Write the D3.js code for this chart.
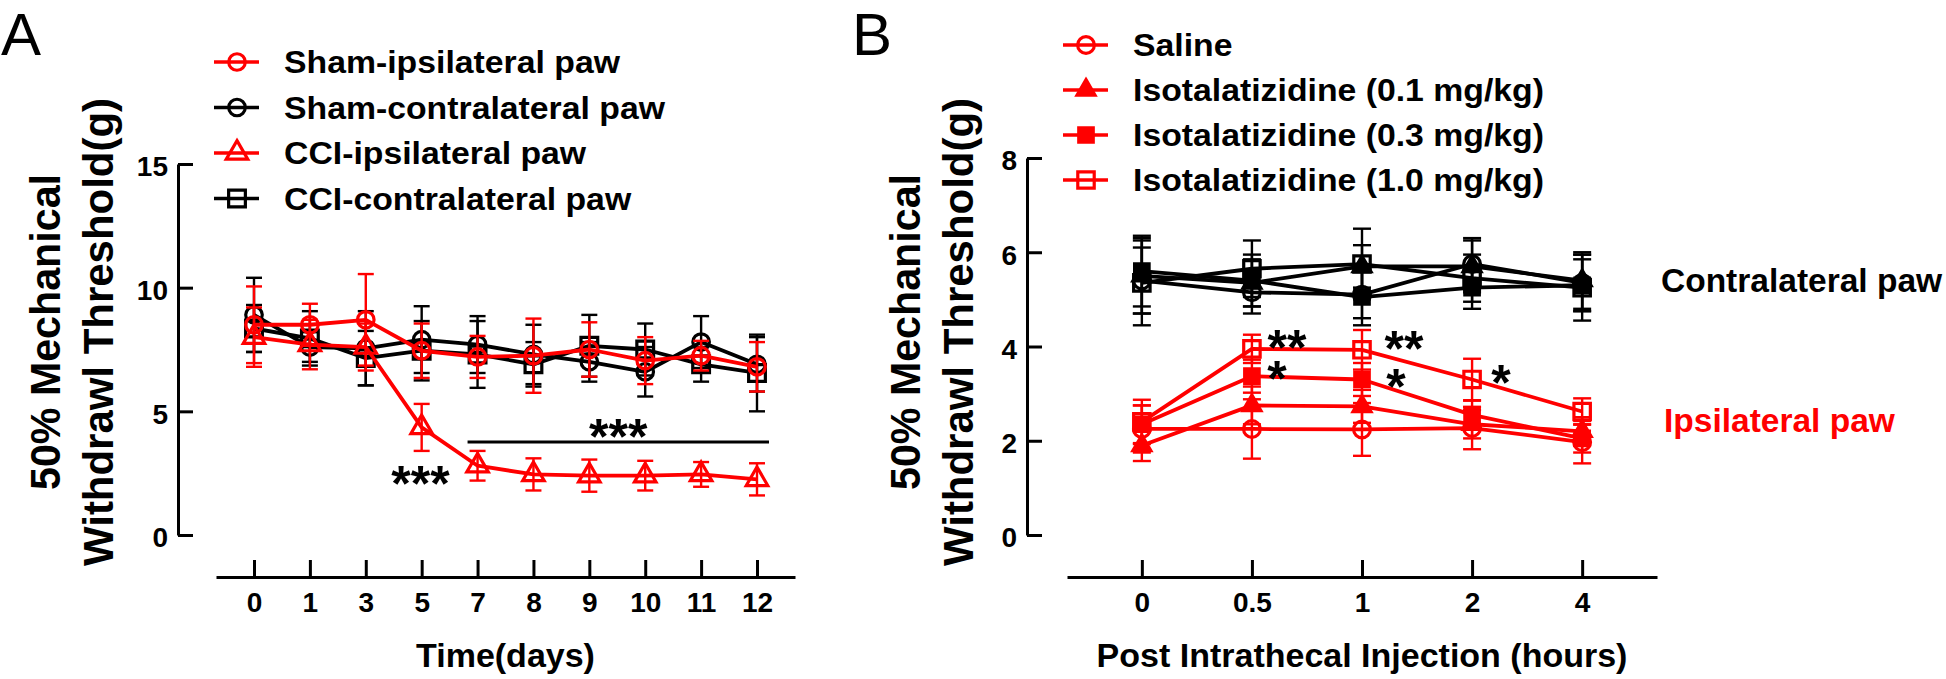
<!DOCTYPE html>
<html>
<head>
<meta charset="utf-8">
<title>50% Mechanical Withdrawl Threshold</title>
<script src="https://cdn.jsdelivr.net/npm/d3@7"></script>
<style>
  body { margin: 0; background: #fff; }
  svg { display: block; font-family: "Liberation Sans", Arial, Helvetica, sans-serif; }
  .axis path, .axis line { stroke: #000; stroke-width: 3; }
  .axis text { font-size: 28px; font-weight: bold; fill: #000; }
</style>
</head>
<body>
<div id="chart"></div>
<script>

var RED = "#ff0000";

// ---- Panel A : time course after CCI ----
var daysA = ["0", "1", "3", "5", "7", "8", "9", "10", "11", "12"];
var shamIpsi      = [8.5, 8.5, 8.7, 7.45, 7.2, 7.25, 7.5, 7.05, 7.25, 6.8];
var shamIpsiErr   = [1.55, 0.85, 1.85, 1.1, 0.85, 1.5, 1.1, 0.95, 0.6, 1.0];
var shamContra    = [8.9, 7.6, 7.55, 7.9, 7.7, 7.3, 7.0, 6.6, 7.8, 6.9];
var shamContraErr = [1.5, 0.6, 1.5, 1.35, 1.15, 1.2, 0.8, 1.0, 1.05, 1.1];
var cciIpsi       = [8.0, 7.7, 7.6, 4.35, 2.8, 2.45, 2.4, 2.4, 2.45, 2.25];
var cciIpsiErr    = [1.2, 1.0, 0.95, 0.95, 0.6, 0.65, 0.65, 0.6, 0.5, 0.65];
var cciContra     = [8.35, 7.95, 7.15, 7.45, 7.3, 6.9, 7.65, 7.5, 6.9, 6.55];
var cciContraErr  = [0.95, 1.1, 1.1, 1.2, 1.35, 0.9, 1.25, 1.05, 0.7, 1.55];
var yTicksA = [0, 5, 10, 15];

// ---- Panel B : after intrathecal injection ----
var hoursB = ["0", "0.5", "1", "2", "4"];
var salIpsi      = [2.25, 2.25, 2.24, 2.27, 1.97];
var salIpsiErr   = [0.5, 0.63, 0.56, 0.45, 0.45];
var iso01Ipsi    = [1.9, 2.75, 2.73, 2.35, 2.2];
var iso01IpsiErr = [0.33, 0.4, 0.35, 0.3, 0.3];
var iso03Ipsi    = [2.35, 3.37, 3.3, 2.55, 2.05];
var iso03IpsiErr = [0.4, 0.35, 0.35, 0.3, 0.3];
var iso10Ipsi    = [2.4, 3.95, 3.93, 3.3, 2.62];
var iso10IpsiErr = [0.47, 0.3, 0.42, 0.44, 0.28];
var salContra      = [5.4, 5.15, 5.1, 5.75, 5.35];
var salContraErr   = [0.7, 0.45, 0.5, 0.55, 0.6];
var iso01Contra    = [5.5, 5.35, 5.7, 5.7, 5.4];
var iso01ContraErr = [0.8, 0.5, 0.45, 0.55, 0.6];
var iso03Contra    = [5.6, 5.4, 5.05, 5.25, 5.3];
var iso03ContraErr = [0.75, 0.55, 0.6, 0.45, 0.55];
var iso10Contra    = [5.35, 5.65, 5.75, 5.45, 5.25];
var iso10ContraErr = [0.9, 0.6, 0.75, 0.5, 0.7];
var yTicksB = [0, 2, 4, 6, 8];

var svg = d3.select("#chart").append("svg")
  .attr("width", 1946)
  .attr("height", 679);

/*
 * LinePanel - one GraphPad style panel (mean +/- error, point x axis)
 */
LinePanel = function(_svg, _opts){
  this.svg = _svg;
  this.opts = _opts;
  this.initVis();
}

LinePanel.prototype.initVis = function(){
  var vis = this;
  var o = vis.opts;

  vis.g = vis.svg.append("g");

  vis.x = d3.scalePoint()
    .domain(o.categories)
    .range([o.left, o.right])
    .padding(0.68);

  vis.y = d3.scaleLinear()
    .domain([0, o.yMax])
    .range([o.bottom, o.top]);

  vis.yAxis = d3.axisLeft(vis.y)
    .tickValues(o.yTicks)
    .tickSizeInner(-15)
    .tickSizeOuter(0)
    .tickPadding(10);

  vis.xAxis = d3.axisBottom(vis.x)
    .tickSizeInner(-17)
    .tickSizeOuter(0)
    .tickPadding(15);

  var ya = vis.g.append("g")
    .attr("class", "axis")
    .attr("transform", "translate(" + o.yAxisX + ",0)")
    .call(vis.yAxis)
    .attr("font-size", null).attr("font-family", null);
  ya.selectAll("text").attr("dy", "0.42em");

  vis.g.append("g")
    .attr("class", "axis")
    .attr("transform", "translate(0," + o.baseline + ")")
    .call(vis.xAxis)
    .attr("font-size", null).attr("font-family", null);

  // x title
  vis.g.append("text")
    .attr("x", (o.left + o.right) / 2)
    .attr("y", o.baseline + 90)
    .attr("text-anchor", "middle")
    .style("font-size", "34px")
    .style("font-weight", "bold")
    .text(o.xTitle);

  // y title, two lines
  o.yTitle.forEach(function(t, i){
    vis.g.append("text")
      .attr("transform", "translate(" + o.yTitleX[i] + ",332) rotate(-90)")
      .attr("text-anchor", "middle")
      .attr("textLength", o.yTitleLen[i])
      .attr("lengthAdjust", "spacingAndGlyphs")
      .style("font-size", "42px")
      .style("font-weight", "bold")
      .text(t);
  });

  // panel letter
  vis.g.append("text")
    .attr("x", o.letterX)
    .attr("y", 55)
    .style("font-size", "60px")
    .text(o.letter);

  vis.wrangleData();
}

LinePanel.prototype.wrangleData = function(){
  var vis = this;
  var o = vis.opts;

  vis.displayData = o.series.map(function(s){
    return {
      style: s,
      points: s.values.map(function(v, i){
        return { cat: o.categories[i], v: v, e: s.err[i] };
      })
    };
  });

  vis.updateVis();
}

LinePanel.prototype.symbolPath = function(s){
  var types = { circle: d3.symbolCircle, triangle: d3.symbolTriangle, square: d3.symbolSquare };
  return d3.symbol().type(types[s.shape]).size(s.size)();
}

LinePanel.prototype.updateVis = function(){
  var vis = this;
  var o = vis.opts;
  var cap = o.capWidth;

  var line = d3.line()
    .x(function(d){ return vis.x(d.cat); })
    .y(function(d){ return vis.y(d.v); });

  o.drawOrder.forEach(function(idx){
    var d = vis.displayData[idx];
    var s = d.style;
    var gs = vis.g.append("g");

    // error bars
    var eb = gs.selectAll(".eb").data(d.points).enter().append("g")
      .attr("stroke", s.color)
      .attr("stroke-width", 2.4);
    eb.append("line")
      .attr("x1", function(p){ return vis.x(p.cat); })
      .attr("x2", function(p){ return vis.x(p.cat); })
      .attr("y1", function(p){ return vis.y(p.v - p.e); })
      .attr("y2", function(p){ return vis.y(p.v + p.e); });
    eb.append("line")
      .attr("x1", function(p){ return vis.x(p.cat) - cap / 2; })
      .attr("x2", function(p){ return vis.x(p.cat) + cap / 2; })
      .attr("y1", function(p){ return vis.y(p.v + p.e); })
      .attr("y2", function(p){ return vis.y(p.v + p.e); });
    eb.append("line")
      .attr("x1", function(p){ return vis.x(p.cat) - cap / 2; })
      .attr("x2", function(p){ return vis.x(p.cat) + cap / 2; })
      .attr("y1", function(p){ return vis.y(p.v - p.e); })
      .attr("y2", function(p){ return vis.y(p.v - p.e); });

    gs.append("path")
      .datum(d.points)
      .attr("d", line)
      .attr("fill", "none")
      .attr("stroke", s.color)
      .attr("stroke-width", 3.8)
      .attr("stroke-linejoin", "round");

    gs.selectAll(".mk").data(d.points).enter().append("path")
      .attr("transform", function(p){ return "translate(" + vis.x(p.cat) + "," + vis.y(p.v) + ")"; })
      .attr("d", vis.symbolPath(s))
      .attr("fill", s.filled ? s.color : "none")
      .attr("stroke", s.color)
      .attr("stroke-width", 3.2);
  });

  // legend
  o.legend.forEach(function(idx, i){
    var s = o.series[idx];
    var ly = o.legendY + i * o.legendGap;
    var lg = vis.g.append("g");
    lg.append("line")
      .attr("x1", o.legendX - 23).attr("x2", o.legendX + 22)
      .attr("y1", ly).attr("y2", ly)
      .attr("stroke", s.color).attr("stroke-width", 3.6);
    lg.append("path")
      .attr("transform", "translate(" + o.legendX + "," + ly + ")")
      .attr("d", vis.symbolPath(s))
      .attr("fill", s.filled ? s.color : "none")
      .attr("stroke", s.color)
      .attr("stroke-width", 3.2);
    lg.append("text")
      .attr("transform", "translate(" + (o.legendX + 47) + "," + (ly + 11) + ") scale(1.09,1)")
      .style("font-size", "31px")
      .style("font-weight", "bold")
      .text(s.name);
  });
}

// significance marks; several marks stacked at one time point share one text
function stars(g, items){
  var t = g.append("text")
    .attr("text-anchor", "middle")
    .style("font-size", "50px")
    .style("font-weight", "bold");
  items.forEach(function(it){
    t.append("tspan")
      .attr("x", it.x)
      .attr("y", it.y + 28)
      .text(it.txt);
  });
}

// ---- build panel A ----
var panelA = new LinePanel(svg, {
  categories: daysA,
  yMax: 15, yTicks: yTicksA,
  left: 216, right: 795, bottom: 535, top: 164,
  yAxisX: 178, baseline: 577,
  xTitle: "Time(days)",
  yTitle: ["50% Mechanical", "Withdrawl Threshold(g)"],
  yTitleX: [60, 113], yTitleLen: [316, 468],
  letter: "A", letterX: 1,
  capWidth: 16,
  legendX: 237, legendY: 62, legendGap: 45.5,
  series: [
    { name: "Sham-ipsilateral paw", values: shamIpsi, err: shamIpsiErr, color: RED, shape: "circle", size: 215, filled: false },
    { name: "Sham-contralateral paw", values: shamContra, err: shamContraErr, color: "#000", shape: "circle", size: 215, filled: false },
    { name: "CCI-ipsilateral paw", values: cciIpsi, err: cciIpsiErr, color: RED, shape: "triangle", size: 200, filled: false },
    { name: "CCI-contralateral paw", values: cciContra, err: cciContraErr, color: "#000", shape: "square", size: 280, filled: false }
  ],
  drawOrder: [1, 3, 2, 0],
  legend: [0, 1, 2, 3]
});

// significance, panel A
var xA = panelA.x, yA = panelA.y;
stars(panelA.g, [{ txt: "***", x: xA("7") - 57, y: yA(cciIpsi[4]) + 7 }]);
panelA.g.append("line")
  .attr("x1", xA("7") - 10).attr("x2", xA("12") + 12)
  .attr("y1", yA(3.76)).attr("y2", yA(3.76))
  .attr("stroke", "#000").attr("stroke-width", 3);
stars(panelA.g, [{ txt: "***", x: (xA("7") + xA("12")) / 2 + 1, y: yA(3.76) - 16 }]);

// ---- build panel B ----
var panelB = new LinePanel(svg, {
  categories: hoursB,
  yMax: 8, yTicks: yTicksB,
  left: 1067, right: 1657, bottom: 535, top: 158,
  yAxisX: 1027, baseline: 577,
  xTitle: "Post Intrathecal Injection (hours)",
  yTitle: ["50% Mechanical", "Withdrawl Threshold(g)"],
  yTitleX: [920, 973], yTitleLen: [316, 468],
  letter: "B", letterX: 852,
  capWidth: 18,
  legendX: 1086, legendY: 45, legendGap: 45,
  series: [
    { name: "Saline", values: salIpsi, err: salIpsiErr, color: RED, shape: "circle", size: 220, filled: false },
    { name: "Isotalatizidine (0.1 mg/kg)", values: iso01Ipsi, err: iso01IpsiErr, color: RED, shape: "triangle", size: 140, filled: true },
    { name: "Isotalatizidine (0.3 mg/kg)", values: iso03Ipsi, err: iso03IpsiErr, color: RED, shape: "square", size: 210, filled: true },
    { name: "Isotalatizidine (1.0 mg/kg)", values: iso10Ipsi, err: iso10IpsiErr, color: RED, shape: "square", size: 270, filled: false },
    { name: "Saline", values: salContra, err: salContraErr, color: "#000", shape: "circle", size: 220, filled: false },
    { name: "Isotalatizidine (0.1 mg/kg)", values: iso01Contra, err: iso01ContraErr, color: "#000", shape: "triangle", size: 140, filled: true },
    { name: "Isotalatizidine (0.3 mg/kg)", values: iso03Contra, err: iso03ContraErr, color: "#000", shape: "square", size: 210, filled: true },
    { name: "Isotalatizidine (1.0 mg/kg)", values: iso10Contra, err: iso10ContraErr, color: "#000", shape: "square", size: 270, filled: false }
  ],
  drawOrder: [4, 5, 6, 7, 0, 1, 2, 3],
  legend: [0, 1, 2, 3]
});

var xB = panelB.x, yB = panelB.y;
stars(panelB.g, [
  { txt: "**", x: xB("0.5") + 35, y: yB(iso10Ipsi[1]) - 12 },
  { txt: "*",  x: xB("0.5") + 25, y: yB(iso03Ipsi[1]) - 8 }
]);
stars(panelB.g, [
  { txt: "**", x: xB("1") + 42, y: yB(iso10Ipsi[2]) - 12 },
  { txt: "*",  x: xB("1") + 34, y: yB(iso03Ipsi[2]) - 3 }
]);
stars(panelB.g, [{ txt: "*", x: xB("2") + 29, y: yB(iso10Ipsi[3]) - 7 }]);

// group labels on the right
panelB.g.append("text")
  .attr("x", 1661).attr("y", 292)
  .style("font-size", "33.5px").style("font-weight", "bold")
  .text("Contralateral paw");
panelB.g.append("text")
  .attr("x", 1664).attr("y", 432)
  .style("font-size", "33.5px").style("font-weight", "bold")
  .attr("fill", RED)
  .text("Ipsilateral paw");

</script>
</body>
</html>
